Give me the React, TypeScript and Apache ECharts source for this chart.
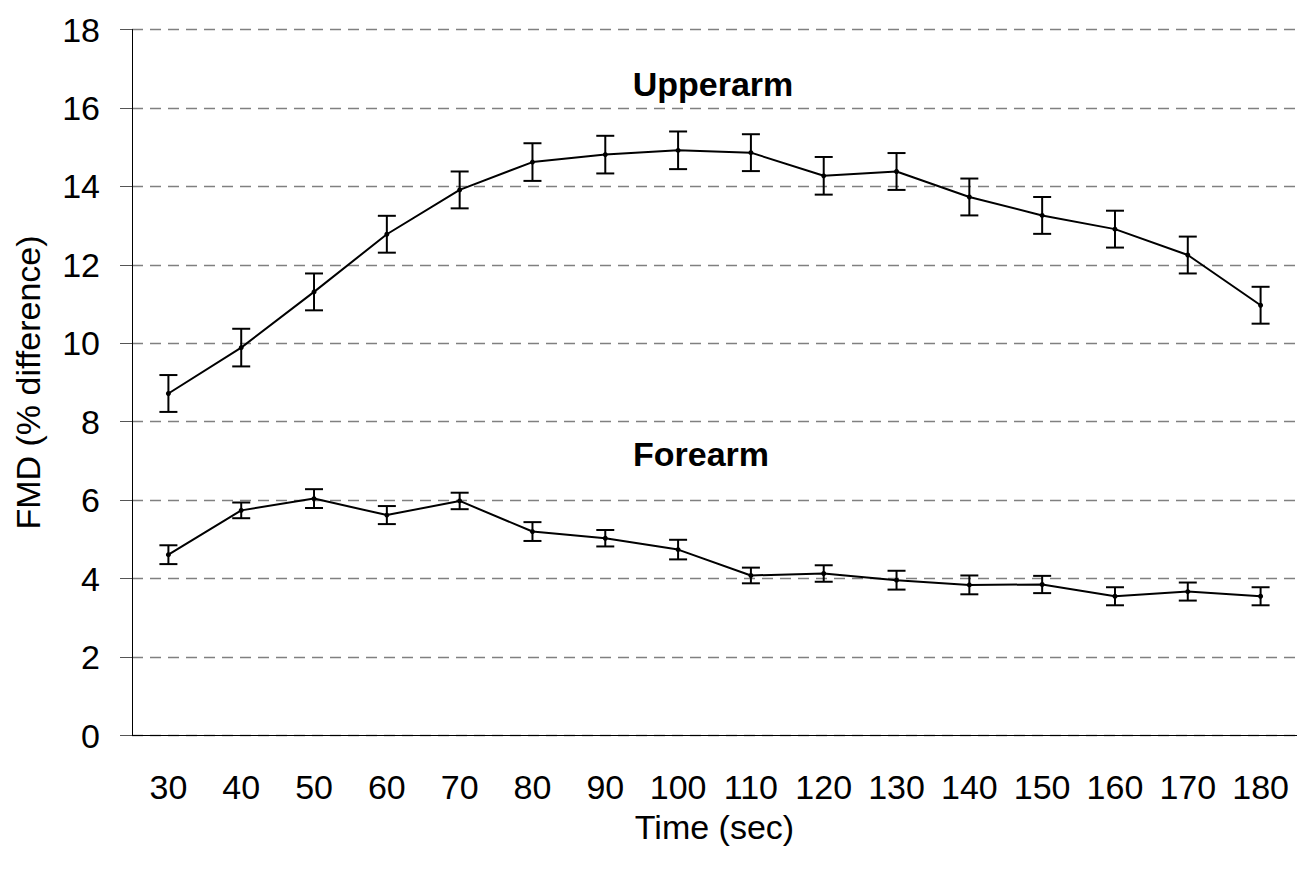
import React, { useEffect, useRef } from "react";
import * as echarts from "echarts";

const categories = ["30", "40", "50", "60", "70", "80", "90", "100", "110", "120", "130", "140", "150", "160", "170", "180"];
const upperarm = [8.72, 9.89, 11.31, 12.78, 13.91, 14.62, 14.81, 14.92, 14.86, 14.27, 14.38, 13.73, 13.26, 12.91, 12.25, 10.97];
const upperarmErr = [0.47, 0.48, 0.47, 0.47, 0.47, 0.48, 0.48, 0.48, 0.47, 0.48, 0.47, 0.47, 0.47, 0.47, 0.47, 0.47];
const forearm = [4.61, 5.74, 6.04, 5.62, 5.98, 5.2, 5.03, 4.74, 4.08, 4.13, 3.96, 3.84, 3.85, 3.55, 3.67, 3.55];
const forearmErr = [0.24, 0.2, 0.24, 0.23, 0.21, 0.24, 0.21, 0.25, 0.2, 0.21, 0.24, 0.24, 0.22, 0.23, 0.23, 0.23];

const FONT = "'Liberation Sans', Arial, sans-serif";

function errorData(vals: number[], errs: number[]) {
  return vals.map((v, i) => [i, v - errs[i], v + errs[i]]);
}

function renderError(params: any, api: any) {
  const idx = api.value(0);
  const lo = api.coord([idx, api.value(1)]);
  const hi = api.coord([idx, api.value(2)]);
  const hw = 9;
  const style = { stroke: "#000", lineWidth: 2 };
  return {
    type: "group",
    children: [
      { type: "line", shape: { x1: lo[0], y1: lo[1], x2: hi[0], y2: hi[1] }, style },
      { type: "line", shape: { x1: lo[0] - hw, y1: lo[1], x2: lo[0] + hw, y2: lo[1] }, style },
      { type: "line", shape: { x1: hi[0] - hw, y1: hi[1], x2: hi[0] + hw, y2: hi[1] }, style },
    ],
  };
}

export default function App() {
  const ref = useRef<HTMLDivElement>(null);
  useEffect(() => {
    if (!ref.current) return;
    const chart = echarts.init(ref.current, undefined, { renderer: "svg" });
    const lineSeries = (name: string, data: number[]) => ({
      name,
      type: "line",
      data,
      symbol: "circle",
      symbolSize: 5,
      itemStyle: { color: "#000" },
      lineStyle: { color: "#000", width: 2 },
      z: 3,
    });
    chart.setOption({
      animation: false,
      backgroundColor: "#fff",
      textStyle: { fontFamily: FONT },
      grid: { left: 132, top: 29.5, width: 1169, height: 706, containLabel: false },
      xAxis: {
        type: "category",
        data: categories,
        boundaryGap: true,
        name: "Time (sec)",
        nameLocation: "middle",
        nameGap: 74,
        nameTextStyle: { fontSize: 34, color: "#000", fontFamily: FONT },
        axisLine: { lineStyle: { color: "#000", width: 1 } },
        axisTick: { show: false },
        axisLabel: { fontSize: 34, color: "#000", margin: 34, fontFamily: FONT, interval: 0 },
        splitLine: { show: false },
      },
      yAxis: {
        type: "value",
        min: 0,
        max: 18,
        interval: 2,
        name: "FMD (% difference)",
        nameLocation: "middle",
        nameGap: 87,
        nameTextStyle: { fontSize: 34, color: "#000", fontFamily: FONT },
        axisLine: { show: true, lineStyle: { color: "#000", width: 1 } },
        axisTick: { show: true, length: 12, lineStyle: { color: "#555", width: 1 } },
        axisLabel: { fontSize: 34, color: "#000", margin: 32, fontFamily: FONT },
        splitLine: { show: true, lineStyle: { color: "#808080", width: 1.3, type: [11, 7] } },
      },
      graphic: [
        {
          type: "text",
          x: 713,
          y: 84,
          style: { text: "Upperarm", font: `bold 34px ${FONT}`, fill: "#000", textAlign: "center", textVerticalAlign: "middle" },
        },
        {
          type: "text",
          x: 701,
          y: 454,
          style: { text: "Forearm", font: `bold 34px ${FONT}`, fill: "#000", textAlign: "center", textVerticalAlign: "middle" },
        },
      ],
      series: [
        lineSeries("Upperarm", upperarm),
        lineSeries("Forearm", forearm),
        { type: "custom", renderItem: renderError, data: errorData(upperarm, upperarmErr), z: 4, encode: { x: 0, y: [1, 2] } },
        { type: "custom", renderItem: renderError, data: errorData(forearm, forearmErr), z: 4, encode: { x: 0, y: [1, 2] } },
      ],
    });
    return () => chart.dispose();
  }, []);
  return <div ref={ref} style={{ position: "fixed", left: 0, top: 0, width: 1297, height: 869 }} />;
}
